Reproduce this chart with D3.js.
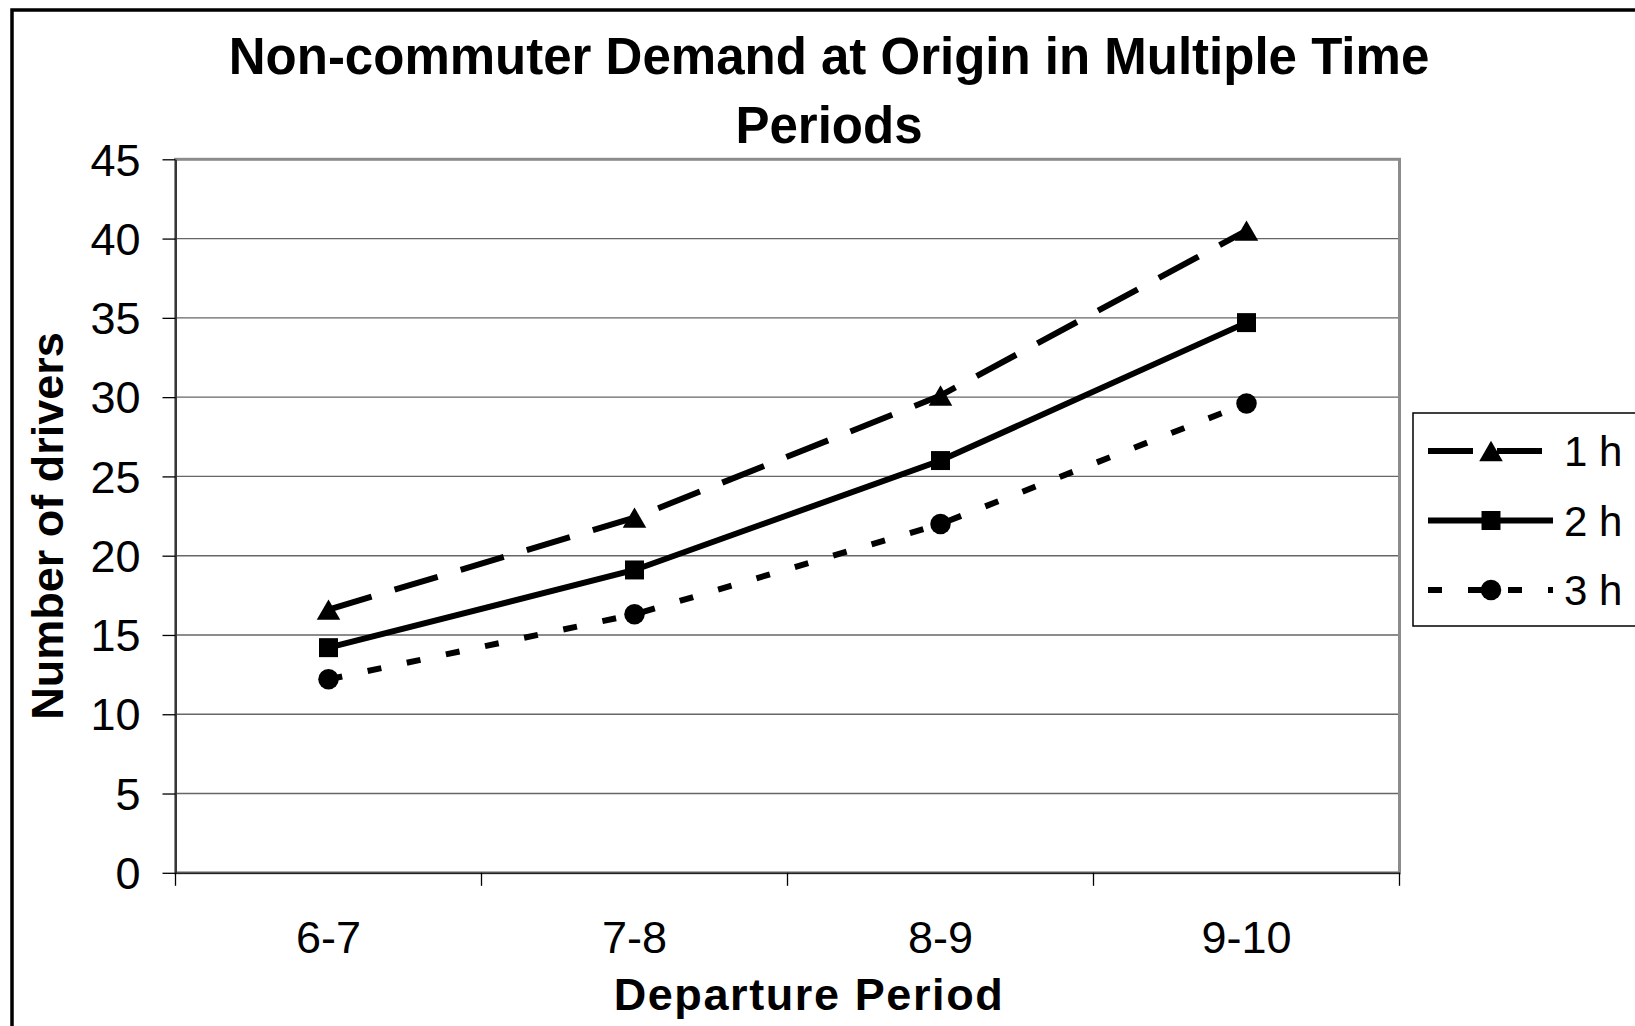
<!DOCTYPE html>
<html>
<head>
<meta charset="utf-8">
<script src="https://cdn.jsdelivr.net/npm/d3@7"></script>
<style>
  body { margin: 0; background: #fff; }
  text { font-family: "Liberation Sans", Arial, sans-serif; fill: #000; }
</style>
</head>
<body>
<div id="chart"></div>
<script>
//departure periods on the x axis and the demand for each waiting time
var periods = ['6-7', '7-8', '8-9', '9-10'];
var oneHour = [16.6, 22.4, 30.1, 40.5];
var twoHour = [14.2, 19.1, 26.0, 34.7];
var threeHour = [12.2, 16.3, 22.0, 29.6];
var seriesNames = ['1 h', '2 h', '3 h'];
var yTicks = [0, 5, 10, 15, 20, 25, 30, 35, 40, 45];

var width = 1635;
var height = 1026;
var plot = { left: 175.5, right: 1399.5, top: 159.3, bottom: 872.8 };

//line style and marker for each series
var series = [
  { name: seriesNames[0], values: oneHour, dash: '45,24', symbol: d3.symbolTriangle, size: 240, shift: 3.4 },
  { name: seriesNames[1], values: twoHour, dash: null, symbol: d3.symbolSquare, size: 360, shift: 0 },
  { name: seriesNames[2], values: threeHour, dash: '14,26', symbol: d3.symbolCircle, size: 330, shift: 0 }
];

var svg = d3.select('#chart')
  .append('svg')
  .attr('width', width)
  .attr('height', height);

//outer chart border, right and bottom edges fall off the page
svg.append('rect')
  .attr('x', 12).attr('y', 10)
  .attr('width', 1700).attr('height', 1100)
  .attr('fill', 'none')
  .attr('stroke', '#000')
  .attr('stroke-width', 3.5);

var x = d3.scaleBand()
  .domain(periods)
  .range([plot.left, plot.right])
  .padding(0);

var y = d3.scaleLinear()
  .domain([0, 45])
  .range([plot.bottom, plot.top]);

//horizontal gridlines
svg.append('g')
  .selectAll('line')
  .data(yTicks.slice(1))
  .join('line')
  .attr('x1', plot.left).attr('x2', plot.right)
  .attr('y1', d => y(d)).attr('y2', d => y(d))
  .attr('stroke', '#666')
  .attr('stroke-width', 1.4);

//plot area frame (grey)
svg.append('rect')
  .attr('x', plot.left).attr('y', plot.top)
  .attr('width', plot.right - plot.left)
  .attr('height', plot.bottom - plot.top)
  .attr('fill', 'none')
  .attr('stroke', '#8c8c8c')
  .attr('stroke-width', 3);

//y axis with ticks sticking out to the left
var yAxis = svg.append('g')
  .attr('transform', `translate(${plot.left},0)`)
  .call(d3.axisLeft(y).tickValues(yTicks).tickSize(13).tickPadding(22).tickSizeOuter(0));
yAxis.selectAll('text').attr('font-size', '45px').attr('dy', '0.35em');

//x axis: ticks on the category boundaries
var xAxis = svg.append('g')
  .attr('transform', `translate(0,${plot.bottom})`)
  .call(d3.axisBottom(x).tickSize(0).tickPadding(0).tickSizeOuter(0));
xAxis.selectAll('.tick text')
  .attr('font-size', '45px')
  .attr('y', 80)
  .attr('dy', 0);
svg.append('g')
  .selectAll('line')
  .data(periods.concat(['end']))
  .join('line')
  .attr('x1', (d, i) => plot.left + i * x.bandwidth())
  .attr('x2', (d, i) => plot.left + i * x.bandwidth())
  .attr('y1', plot.bottom).attr('y2', plot.bottom + 13)
  .attr('stroke', '#000')
  .attr('stroke-width', 1.3);

svg.selectAll('.domain').attr('stroke', '#222').attr('stroke-width', 1.6);
svg.selectAll('.tick line').attr('stroke', '#000').attr('stroke-width', 1.3);

//draw each series line then its markers on top
var line = d3.line()
  .x((d, i) => x(periods[i]) + x.bandwidth() / 2)
  .y(d => y(d));

series.forEach(function (s) {
  svg.append('path')
    .datum(s.values)
    .attr('d', line)
    .attr('fill', 'none')
    .attr('stroke', '#000')
    .attr('stroke-width', 6)
    .attr('stroke-dasharray', s.dash);

  svg.append('g')
    .selectAll('path')
    .data(s.values)
    .join('path')
    .attr('d', d3.symbol().type(s.symbol).size(s.size))
    .attr('transform', (d, i) => `translate(${x(periods[i]) + x.bandwidth() / 2},${y(d) + s.shift})`)
    .attr('fill', '#000');
});

//title on two lines
var title = svg.append('text')
  .attr('text-anchor', 'middle')
  .attr('font-size', '51px')
  .attr('font-weight', 'bold');
title.append('tspan').attr('x', 829).attr('y', 74).text('Non-commuter Demand at Origin in Multiple Time');
title.append('tspan').attr('x', 829).attr('y', 143).text('Periods');

//axis titles
svg.append('text')
  .attr('transform', 'translate(63,526) rotate(-90)')
  .attr('text-anchor', 'middle')
  .attr('font-size', '45px')
  .attr('font-weight', 'bold')
  .text('Number of drivers');

svg.append('text')
  .attr('x', 809).attr('y', 1010)
  .attr('text-anchor', 'middle')
  .attr('font-size', '45px')
  .attr('font-weight', 'bold')
  .attr('letter-spacing', '1.6px')
  .text('Departure Period');

//legend box, cut by the right edge of the page
var legend = svg.append('g');
legend.append('rect')
  .attr('x', 1413).attr('y', 413)
  .attr('width', 300).attr('height', 213)
  .attr('fill', '#fff')
  .attr('stroke', '#000')
  .attr('stroke-width', 1.5);

var rows = legend.selectAll('g')
  .data(series)
  .join('g')
  .attr('transform', (d, i) => `translate(0,${451 + i * 69.5})`);

rows.append('line')
  .attr('x1', 1428).attr('x2', 1553)
  .attr('y1', 0).attr('y2', 0)
  .attr('stroke', '#000')
  .attr('stroke-width', 6)
  .attr('stroke-dasharray', d => d.dash);

rows.append('path')
  .attr('d', d => d3.symbol().type(d.symbol).size(d.size)())
  .attr('transform', d => `translate(1491,${d.shift})`)
  .attr('fill', '#000');

rows.append('text')
  .attr('x', 1564)
  .attr('dy', '0.36em')
  .attr('font-size', '42px')
  .text(d => d.name);
</script>
</body>
</html>
